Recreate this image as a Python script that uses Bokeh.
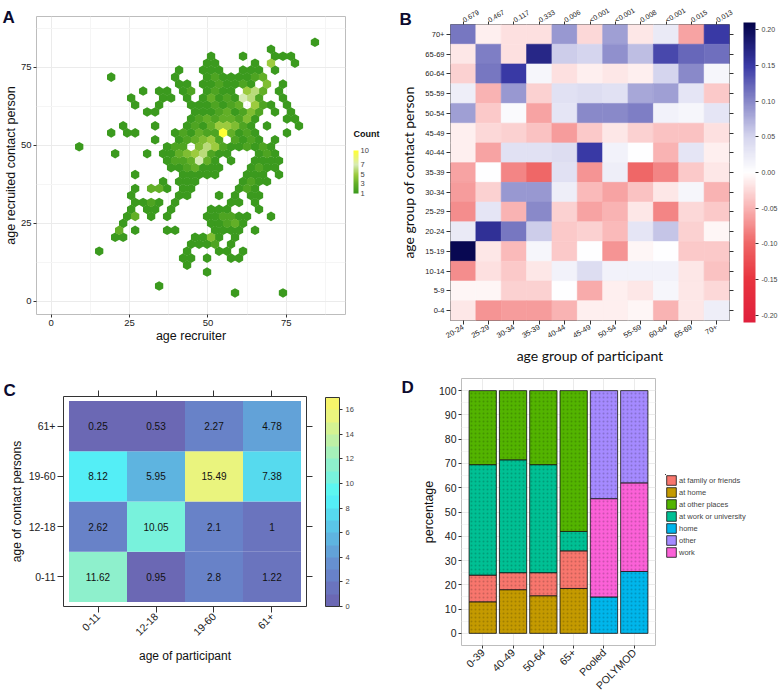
import numpy as np
from bokeh.plotting import figure
from bokeh.layouts import row, column
from bokeh.models import (Range1d, FactorRange, LinearColorMapper, ColorBar, FixedTicker,
                          Title, LinearAxis, Legend, LegendItem, ColumnDataSource,
                          PrintfTickFormatter, AllLabels)
from bokeh.transform import transform
from bokeh.core.properties import value
from bokeh.embed import file_html
from bokeh.resources import INLINE

FONT = "Liberation Sans"
BFONT = "Lato"

# ---------------- Panel A data: hexbin counts (top row first) ----------------
hex_rows = [
    "..... ..... ..... ..... ..... ..... ...1.",  # 36
    "..... ..... ..... ..... ..... ..1.. .....",  # 35
    "..... ..... ..... ..... 1...1 ...11 1....",  # 34
    "..... ..... ..... ....1 1.... 1.5.. 1....",  # 33
    "..... ..... ..... .1..1 11..1 11.1. .....",  # 32
    "..... ..1.. ..... 1...1 21111 23... .....",  # 31
    "..... ..... ..... .11.1 12112 1.4.1 .....",  # 30
    "..... ..... .1.11 .12.1 211.5 63.1. .....",  # 29
    "..... ..... 1...1 1.1.1 31217 62..1 .....",  # 28
    "..... ..... 1..1. ..111 2123. 521.1 .....",  # 27
    "..... ..... ..11. ...11 12312 42.1. 1....",  # 26
    "..... ..... ..... ..123 23324 1...1 1....",  # 25
    "..... ....1 ...1. ..121 35542 1.1.. .1...",  # 24
    "..... ..1.1 1.... 12132 2a312 1...1 .....",  # 23
    "..... ..... ...1. .1234 52.21 21.1. .....",  # 22
    "...1. ..... ....1 22.46 52112 121.. .....",  # 21
    "..... ...1. ..1.1 13456 211.. .121. .....",  # 20
    "..... ..... ....1 22373 1.1.. 1111. .....",  # 19
    "..... ..... ..... 11231 11... 1211. .....",  # 18
    "..... ..... 1.... .1111 1...1 11.1. .....",  # 17
    "..... ..... ....1 .111. ....1 211.. .....",  # 16
    "..... ..... 1.331 .11.. ...12 1.... .....",  # 15
    "..... ..... 1.... .11.. .1.1. 11... .....",  # 14
    "..... ..... 1121. 1.... ..11. 1.... .....",  # 13
    "..... ..... 1.11. 1.... 111.. .1... .....",  # 12
    "..... ....1 3.1.1 ....1 12211 ..1.. .....",  # 11
    "..... ....1 ..... ..... 11231 ..... .....",  # 10
    "..... ...3. 1...1 1.... 1111. 1.... .....",  # 9
    "..... ...11 ..... ...11 41.1. ..... .....",  # 8
    "..... ..... ..... ..111 2.1.. ..... .....",  # 7
    "..... .1... ..... ..1.. .11.1 ..... .....",  # 6
    "..... ..... ..... .11.1 ..11. ..... .....",  # 5
    "..... ..... ..... ..1.. ..... ..... .....",  # 4
    "..... ..... ..... ....1 ..... ..... .....",  # 3
    "..... ..... ..... ..... ..... ..... .....",  # 2
    "..... ..... ...1. ..... ..... ..... .....",  # 1
    "..... ..... ..... ..... ...1. ....1 .....",  # 0
]
HEX_W = 2.55   # bin width (years, x)
HEX_H = 2.23   # bin row spacing (years, y)
HEX_Y0 = 2.7   # centre of lowest bin row
age_ticks = [0, 25, 50, 75]
count_ticks = [1, 3, 5, 7, 10]

# ---------------- Panel B data ----------------
participant_groups = ["20-24", "25-29", "30-34", "35-39", "40-44", "45-49",
                      "50-54", "55-59", "60-64", "65-69", "70+"]
contact_groups = ["0-4", "5-9", "10-14", "15-19", "20-24", "25-29", "30-34", "35-39",
                  "40-44", "45-49", "50-54", "55-59", "60-64", "65-69", "70+"]
p_values = ["0.679", "0.467", "0.117", "0.333", "0.006", "<0.001", "<0.001",
            "0.008", "<0.001", "0.015", "0.013"]
corr_rows = [  # contact rows from 70+ (top) down to 0-4
    [0.11, -0.01, -0.02, -0.02, 0.09, -0.025, 0.085, -0.015, 0.025, -0.06, 0.15],
    [-0.015, 0.105, -0.02, 0.17, 0.055, 0.05, 0.095, 0.065, 0.14, 0.12, 0.115],
    [-0.03, 0.11, 0.15, 0.01, -0.02, -0.01, -0.015, -0.01, 0.05, 0.10, 0.01],
    [0.02, -0.05, 0.09, -0.03, 0.035, 0.04, 0.035, 0.08, 0.085, 0.03, -0.035],
    [0.085, -0.035, 0.005, -0.06, 0.03, 0.10, 0.10, 0.105, 0.015, 0.01, 0.03],
    [-0.01, -0.025, -0.03, -0.04, -0.065, -0.035, -0.015, -0.03, -0.04, -0.04, -0.02],
    [-0.01, -0.06, 0.035, 0.035, 0.04, 0.15, 0.015, 0.0, -0.05, 0.03, -0.01],
    [-0.06, 0.0, -0.08, -0.10, 0.035, -0.07, 0.02, -0.10, -0.08, -0.035, -0.015],
    [-0.065, -0.03, 0.09, 0.09, 0.02, -0.045, -0.06, -0.04, -0.015, 0.01, -0.05],
    [-0.075, 0.03, -0.05, 0.10, -0.03, -0.06, -0.05, -0.015, -0.08, -0.025, -0.035],
    [0.025, 0.16, 0.11, 0.055, -0.035, -0.03, -0.045, 0.03, 0.06, -0.03, -0.005],
    [0.205, -0.015, -0.045, 0.01, -0.035, 0.0, -0.07, -0.005, 0.0, -0.035, -0.035],
    [-0.075, -0.02, -0.035, -0.015, 0.015, 0.04, 0.015, 0.015, 0.015, -0.015, -0.04],
    [-0.005, -0.005, -0.03, -0.03, 0.0, -0.055, -0.01, -0.015, 0.01, -0.015, -0.025],
    [-0.015, -0.07, -0.065, -0.065, -0.05, -0.01, -0.01, -0.005, -0.05, -0.015, 0.02],
]
corr_ticks = [-0.20, -0.15, -0.10, -0.05, 0.0, 0.05, 0.10, 0.15, 0.20]

# ---------------- Panel C data ----------------
age_classes = ["0-11", "12-18", "19-60", "61+"]
contacts_0_11 = [11.62, 0.95, 2.8, 1.22]
contacts_12_18 = [2.62, 10.05, 2.1, 1]
contacts_19_60 = [8.12, 5.95, 15.49, 7.38]
contacts_61p = [0.25, 0.53, 2.27, 4.78]
level_ticks = [0, 2, 4, 6, 8, 10, 12, 14, 16]

# ---------------- Panel D data ----------------
groups_D = ["0-39", "40-49", "50-64", "65+", "Pooled", "POLYMOD"]
pct_at_home = [13, 18, 15.5, 18.5, 0, 0]
pct_at_family = [11, 7, 9.5, 15.5, 0, 0]
pct_at_work_univ = [45.5, 46.5, 44.5, 8, 0, 0]
pct_at_other = [30.5, 28.5, 30.5, 58, 0, 0]
pct_home = [0, 0, 0, 0, 15, 25.5]
pct_work = [0, 0, 0, 0, 40.5, 36.5]
pct_other = [0, 0, 0, 0, 44.5, 38]
pct_ticks = list(range(0, 101, 10))


def ramp(anchors, n):
    pos = np.array([a for a, _ in anchors], dtype=float)
    rgb = np.array([[int(c[k:k + 2], 16) for k in (1, 3, 5)] for _, c in anchors], dtype=float)
    t = np.linspace(pos[0], pos[-1], n)
    cols = np.stack([np.interp(t, pos, rgb[:, k]) for k in range(3)], axis=1)
    return ["#%02x%02x%02x" % tuple(int(round(v)) for v in c) for c in cols]


def style_axis(ax, size, standoff=2, tick=3):
    ax.axis_line_color = None
    ax.major_tick_line_color = "#333333"
    ax.major_tick_out = tick
    ax.major_tick_in = 0
    ax.minor_tick_line_color = None
    ax.major_label_text_font = FONT
    ax.major_label_text_font_size = f"{size}px"
    ax.major_label_text_color = "#222222"
    ax.major_label_standoff = standoff
    ax.axis_label_text_font = FONT
    ax.axis_label_text_font_style = "normal"
    ax.axis_label_text_color = "#111111"


def ticks_only_axis(n, tick):
    ax = LinearAxis(ticker=FixedTicker(ticks=list(range(n))),
                    major_label_overrides={k: "" for k in range(n)})
    style_axis(ax, 1, standoff=0, tick=tick)
    return ax


def panel_letter(p, text, offset, standoff):
    p.add_layout(Title(text=text, align="left", offset=offset, standoff=standoff,
                       text_font=FONT, text_font_size="17px", text_font_style="bold",
                       text_color="#0b0b2e"), "above")


def make_fig(**kw):
    p = figure(output_backend="svg", toolbar_location=None, **kw)
    p.frame_align = False
    return p


def blank_fig(width, height, **kw):
    p = make_fig(width=width, height=height, x_axis_type=None, y_axis_type=None,
                 x_range=Range1d(0, width), y_range=Range1d(height, 0), **kw)
    p.grid.grid_line_color = None
    p.outline_line_color = None
    return p


# ======================= Panel A =======================
hx, hy, hn = [], [], []
nrows = len(hex_rows)
for r, s in enumerate(hex_rows):
    j = nrows - 1 - r
    for i, ch in enumerate(s.replace(" ", "")):
        if ch != ".":
            hx.append(HEX_W * (i + 0.5 * (j % 2)))
            hy.append(HEX_Y0 + HEX_H * j)
            hn.append(10 if ch == "a" else int(ch))
order = np.argsort(hn, kind="stable")
srcA = ColumnDataSource(dict(x=[hx[k] for k in order], y=[hy[k] for k in order],
                             n=[hn[k] for k in order]))
mapA = LinearColorMapper(palette=ramp([(1, "#3b9a1e"), (3, "#62af27"), (5, "#9ccb3e"),
                                       (7, "#d6ebb4"), (10, "#ffff33")], 64), low=1, high=10)

pA = make_fig(width=348, height=357, x_range=Range1d(-4.7, 93.9), y_range=Range1d(-4.2, 91.25),
              min_border_left=32, min_border_right=3, min_border_top=16, min_border_bottom=43)
pA.scatter("x", "y", source=srcA, marker="hex", size=9.6, angle=np.pi / 2,
           fill_color=transform("n", mapA), line_color=None)
axA_x, axA_y = pA.below[0], pA.left[0]
axA_x.ticker = FixedTicker(ticks=age_ticks, minor_ticks=[12.5, 37.5, 62.5, 87.5])
axA_y.ticker = FixedTicker(ticks=age_ticks, minor_ticks=[12.5, 37.5, 62.5, 87.5])
for ax in (axA_x, axA_y):
    style_axis(ax, 9.5, standoff=1)
    ax.axis_label_text_font_size = "12.5px"
    ax.axis_label_standoff = 0
axA_x.axis_label = "age recruiter"
axA_y.axis_label = "age recruited contact person"
pA.grid.grid_line_color = "#ebebeb"
pA.grid.minor_grid_line_color = "#f5f5f5"
pA.outline_line_color = "#bdbdbd"
panel_letter(pA, "A", -34, -20)

# legend strip for panel A (count colour bar)
pAleg = blank_fig(41, 357, min_border=0)
pAleg.text(x=[5], y=[133], text=["Count"], text_font=value(FONT), text_font_size="9px",
           text_font_style="bold", text_baseline="middle", text_color="#111111")
cbA = ColorBar(color_mapper=mapA, location=(5, 164), width=5, height=43, padding=0,
               margin=0, ticker=FixedTicker(ticks=count_ticks), major_label_policy=AllLabels(),
               major_label_text_font=FONT, major_label_text_font_size="7.5px",
               label_standoff=2, major_tick_line_color=None, bar_line_color=None,
               border_line_color=None, background_fill_alpha=0)
pAleg.add_layout(cbA)

# ======================= Panel B =======================
bx, by, bv = [], [], []
nB = len(contact_groups)
for r, vals in enumerate(corr_rows):
    for c, v in enumerate(vals):
        bx.append(c); by.append(nB - 1 - r); bv.append(v)
srcB = ColumnDataSource(dict(x=bx, y=by, v=bv))
mapB = LinearColorMapper(palette=ramp([(-0.21, "#e0203c"), (-0.15, "#e8343f"), (-0.10, "#ef6666"),
                                       (-0.05, "#f9b3b3"), (0.0, "#ffffff"), (0.05, "#d5d5ee"),
                                       (0.10, "#8888c9"), (0.15, "#3a3aa6"), (0.21, "#03034a")], 256),
                         low=-0.21, high=0.21)
pB = make_fig(width=389, height=375, x_range=Range1d(-0.5, len(participant_groups) - 0.5),
              y_range=Range1d(-0.5, nB - 0.5), min_border_left=61, min_border_right=49,
              min_border_top=22, min_border_bottom=55)
pB.rect("x", "y", width=1, height=1, source=srcB, fill_color=transform("v", mapB),
        line_color=transform("v", mapB), line_width=0.6)
pB.grid.grid_line_color = None
pB.outline_line_color = "#666666"
axB_x, axB_y = pB.below[0], pB.left[0]
axB_x.ticker = FixedTicker(ticks=list(range(len(participant_groups))))
axB_x.major_label_overrides = {k: g for k, g in enumerate(participant_groups)}
axB_y.ticker = FixedTicker(ticks=list(range(nB)))
axB_y.major_label_overrides = {k: g for k, g in enumerate(contact_groups)}
topB = LinearAxis(ticker=FixedTicker(ticks=list(range(len(participant_groups)))),
                  major_label_overrides={k: pv for k, pv in enumerate(p_values)})
pB.add_layout(topB, "above")
rightB = ticks_only_axis(nB, 4)
pB.add_layout(rightB, "right")
for ax in (axB_x, axB_y):
    style_axis(ax, 7.5, tick=4)
style_axis(topB, 7, standoff=1, tick=3)
axB_x.major_label_orientation = np.pi / 6
topB.major_label_orientation = np.pi / 6
axB_x.axis_label = "age group of participant"
axB_y.axis_label = "age group of contact person"
for ax in (axB_x, axB_y):
    ax.axis_label_text_font = BFONT
    ax.axis_label_text_font_size = "14px"
axB_x.axis_label_standoff = 4
axB_y.axis_label_standoff = 5
cbB = ColorBar(color_mapper=mapB, location=(293, -2), width=12, height=300, padding=0, margin=0,
               ticker=FixedTicker(ticks=corr_ticks), formatter=PrintfTickFormatter(format="%.2f"),
               major_label_text_font=FONT, major_label_text_font_size="7px", label_standoff=3,
               major_tick_in=0, major_tick_out=3, major_tick_line_color="#333333",
               bar_line_color=None, border_line_color=None, background_fill_alpha=0)
pB.add_layout(cbB)
panel_letter(pB, "B", -51, -56)

# ======================= Panel C =======================
cx, cy_, cv = [], [], []
for ci, vals in enumerate([contacts_0_11, contacts_12_18, contacts_19_60, contacts_61p]):
    for pi_, v in enumerate(vals):
        cx.append(pi_); cy_.append(ci); cv.append(v)
srcC = ColumnDataSource(dict(x=cx, y=cy_, v=cv, t=[f"{v:g}" for v in cv]))
mapC = LinearColorMapper(palette=["#6b68b4", "#6a74be", "#6882c8", "#6690d0", "#62a2d8",
                                  "#5eb4e0", "#5ac6e8", "#56daee", "#54eef6", "#5cf6f0",
                                  "#78f2dc", "#8ef0cc", "#a6f0ba", "#bef0a6", "#d4f292",
                                  "#eaf47e", "#f6f46a"], low=0, high=17)
nC = len(age_classes)
pC = make_fig(width=389, height=341, x_range=Range1d(-0.595, nC - 0.405),
              y_range=Range1d(-0.59, nC - 0.41),
              min_border_left=63, min_border_right=83, min_border_top=39, min_border_bottom=92)
pC.rect("x", "y", width=1, height=1, source=srcC, fill_color=transform("v", mapC),
        line_color=None)
pC.text("x", "y", text="t", source=srcC, text_align="center", text_baseline="middle",
        text_font_size="10px", text_font=value(FONT), text_color="#111111")
pC.grid.grid_line_color = None
pC.outline_line_color = "#333333"
axC_x, axC_y = pC.below[0], pC.left[0]
for ax in (axC_x, axC_y):
    ax.ticker = FixedTicker(ticks=list(range(nC)))
    ax.major_label_overrides = {k: g for k, g in enumerate(age_classes)}
    style_axis(ax, 10.5, tick=6)
    ax.axis_label_text_font_size = "12px"
axC_x.axis_label_standoff = 7
axC_y.axis_label_standoff = 2
topC = ticks_only_axis(nC, 6)
rightC = ticks_only_axis(nC, 6)
pC.add_layout(topC, "above")
pC.add_layout(rightC, "right")
axC_x.major_label_orientation = np.pi / 4
axC_x.axis_label = "age of participant"
axC_y.axis_label = "age of contact persons"
cbC = ColorBar(color_mapper=mapC, location=(262, 0), width=14, height=209, padding=0, margin=0,
               ticker=FixedTicker(ticks=level_ticks), major_label_text_font=FONT,
               major_label_text_font_size="7.5px", label_standoff=3, major_tick_in=0,
               major_tick_out=3, major_tick_line_color="#333333", bar_line_color="#333333",
               border_line_color=None, background_fill_alpha=0)
pC.add_layout(cbC)
panel_letter(pC, "C", -60, -19)

# ======================= Panel D =======================
age_stack = ["at home", "at family or friends", "at work or university", "at other places"]
pool_stack = ["home", "work", "other"]
n_age = 4
srcD_age = ColumnDataSource(dict(group=groups_D[:n_age], **{
    "at home": pct_at_home[:n_age], "at family or friends": pct_at_family[:n_age],
    "at work or university": pct_at_work_univ[:n_age], "at other places": pct_at_other[:n_age]}))
srcD_pool = ColumnDataSource(dict(group=groups_D[n_age:], **{
    "home": pct_home[n_age:], "work": pct_work[n_age:], "other": pct_other[n_age:]}))
colors_D = {"at family or friends": "#f8766d", "at home": "#c49a00", "at other places": "#53b400",
            "at work or university": "#00c094", "home": "#00b6eb", "other": "#a58aff",
            "work": "#fb61d7"}
pD = make_fig(width=268, height=323,
              x_range=FactorRange(factors=groups_D, range_padding=0.2, range_padding_units="absolute"),
              y_range=Range1d(-5, 105),
              min_border_left=72, min_border_right=2, min_border_top=3, min_border_bottom=47)
bar_style = dict(x="group", width=0.9, line_color="#111111", line_width=0.8,
                 hatch_pattern="dot", hatch_color="#000000", hatch_alpha=0.18,
                 hatch_scale=4, hatch_weight=0.6)
pD.vbar_stack(age_stack, source=srcD_age, color=[colors_D[k] for k in age_stack], **bar_style)
pD.vbar_stack(pool_stack, source=srcD_pool, color=[colors_D[k] for k in pool_stack], **bar_style)
axD_x, axD_y = pD.below[0], pD.left[0]
axD_y.ticker = FixedTicker(ticks=pct_ticks, minor_ticks=list(range(5, 100, 10)))
style_axis(axD_x, 10.5, standoff=2)
style_axis(axD_y, 10.5, standoff=1)
axD_x.major_label_orientation = np.pi / 4
axD_y.axis_label = "percentage"
axD_y.axis_label_text_font_size = "12.5px"
axD_y.axis_label_standoff = 0
pD.grid.grid_line_color = "#ebebeb"
pD.ygrid.minor_grid_line_color = "#f5f5f5"
pD.outline_line_color = "#bdbdbd"
panel_letter(pD, "D", -60, -37)

# legend strip for panel D
legend_order = ["at family or friends", "at home", "at other places", "at work or university",
                "home", "other", "work"]
pDleg = blank_fig(121, 323, min_border_left=8, min_border_right=0, min_border_top=99,
                  min_border_bottom=140)
key_src = ColumnDataSource(dict(x=[-1000], top=[0]))
items = []
for k in legend_order:
    rk = pDleg.vbar(x="x", top="top", width=1, source=key_src, fill_color=colors_D[k],
                    line_color="#111111", line_width=0.8)
    items.append(LegendItem(label=k, renderers=[rk]))
legD = Legend(items=items, location="top_left", glyph_width=12, glyph_height=12,
              label_height=12, label_text_font=FONT, label_text_font_size="7.5px",
              label_standoff=2, spacing=0, padding=0, margin=0, border_line_color=None,
              background_fill_alpha=0)
pDleg.add_layout(legD)

layout = row(column(row(pA, pAleg), pC), column(pB, row(pD, pDleg)))
open("out.html", "w").write(file_html(layout, INLINE))
